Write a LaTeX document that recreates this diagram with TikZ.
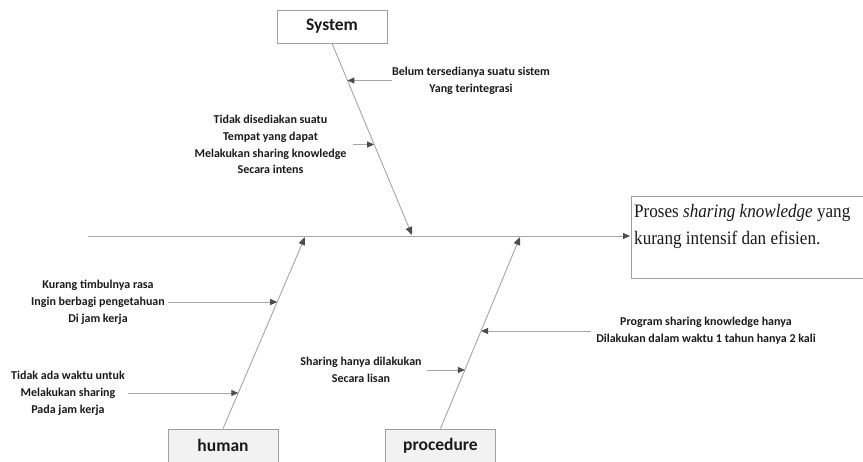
\documentclass[tikz,border=0pt]{standalone}
\usepackage{fontspec}
\usetikzlibrary{arrows.meta,calc}
\newfontfamily\labelfont{Carlito}
\newfontfamily\effectfont[FakeStretch=0.9]{Liberation Serif}
\definecolor{bonegray}{HTML}{A6A6A6}
\definecolor{tipgray}{HTML}{4D4D4D}
\definecolor{edgegray}{HTML}{A0A0A0}
\definecolor{catfill}{HTML}{F2F2F2}
\definecolor{inkc}{HTML}{1A1A1A}

\begin{document}
\begin{tikzpicture}[x=1pt,y=-1pt,
  bone/.style={draw=bonegray, line width=0.9pt,
    -{Triangle[length=8pt,width=6.5pt,color=tipgray]}},
  twig/.style={draw=bonegray, line width=0.9pt,
    -{Triangle[length=7pt,width=6pt,color=tipgray]}},
  cause/.style={font=\labelfont\bfseries\fontsize{12}{16.8}\selectfont,
    align=center, text=inkc, inner sep=3pt},
  catbox/.style={draw=edgegray, line width=0.8pt, fill=catfill,
    minimum width=110pt, minimum height=33pt, inner sep=0pt,
    font=\labelfont\bfseries\fontsize{17.5}{20}\selectfont, text=inkc},
  effectline/.style={anchor=west, inner sep=0pt, text=inkc,
    font=\effectfont\fontsize{19}{27}\selectfont},
]
\useasboundingbox (0,0) rectangle (863,461);
\clip (0,0) rectangle (863,461);

% category boxes
\node[catbox, fill=white] (sys) at (332,26.5) {System};
\node[catbox] (hum) at (223,445.5) {human};
\node[catbox] (proc) at (440.5,445.5) {procedure};

% effect box (runs past the right edge)
\node[draw=edgegray, line width=0.8pt, fill=white, anchor=north west,
      minimum width=270pt, minimum height=82pt] (effect) at (631,196) {};
\node[effectline] (effl1) at (634,213) {Proses \textit{sharing knowledge} yang};
\node[effectline] (effl2) at (634,240) {kurang intensif dan efisien.};

% spine
\coordinate (tail) at (88,236);
\draw[bone, -{Triangle[length=7pt,width=6pt,color=tipgray]}, shorten >=1pt]
  (tail) -- (effect.west |- tail);

% main bones
\coordinate (sysend) at (412,235);
\coordinate (humend) at (305,237);
\coordinate (procend) at (520,237);
\draw[bone] (sys.south) -- (sysend);
\draw[bone] (hum.north) -- (humend);
\draw[bone] (proc.north) -- (procend);

% points where the causes meet the bones
\coordinate (s1) at ($(sys.south)!0.193!(sysend)$);
\coordinate (s2) at ($(sys.south)!0.526!(sysend)$);
\coordinate (h1) at ($(hum.north)!0.661!(humend)$);
\coordinate (h2) at ($(hum.north)!0.1875!(humend)$);
\coordinate (p1) at ($(proc.north)!0.510!(procend)$);
\coordinate (p2) at ($(proc.north)!0.307!(procend)$);

% system causes
\node[cause] (belum) at (471,80.5) {Belum tersedianya suatu sistem\\Yang terintegrasi};
\draw[twig, shorten <=-3pt] (belum.west) -- (belum.west -| s1);
\node[cause] (tempat) at (270.5,144.5)
  {Tidak disediakan suatu\\Tempat yang dapat\\Melakukan sharing knowledge\\Secara intens};
\draw[twig, shorten <=3pt] (tempat.east) -- (tempat.east -| s2);

% human causes
\node[cause] (rasa) at (98,302)
  {Kurang timbulnya rasa\\Ingin berbagi pengetahuan\\Di jam kerja};
\draw[twig] (rasa.east) -- (rasa.east -| h1);
\node[cause] (waktu) at (68,393)
  {Tidak ada waktu untuk\\Melakukan sharing\\Pada jam kerja};
\draw[twig] (waktu.east) -- (waktu.east -| h2);

% procedure causes
\node[cause] (program) at (706,331)
  {Program sharing knowledge hanya\\Dilakukan dalam waktu 1 tahun hanya 2 kali};
\draw[twig, shorten <=2pt] (program.west) -- (program.west -| p1);
\node[cause] (lisan) at (361,370) {Sharing hanya dilakukan\\Secara lisan};
\draw[twig, shorten <=2pt] (lisan.east) -- (lisan.east -| p2);
\end{tikzpicture}
\end{document}
